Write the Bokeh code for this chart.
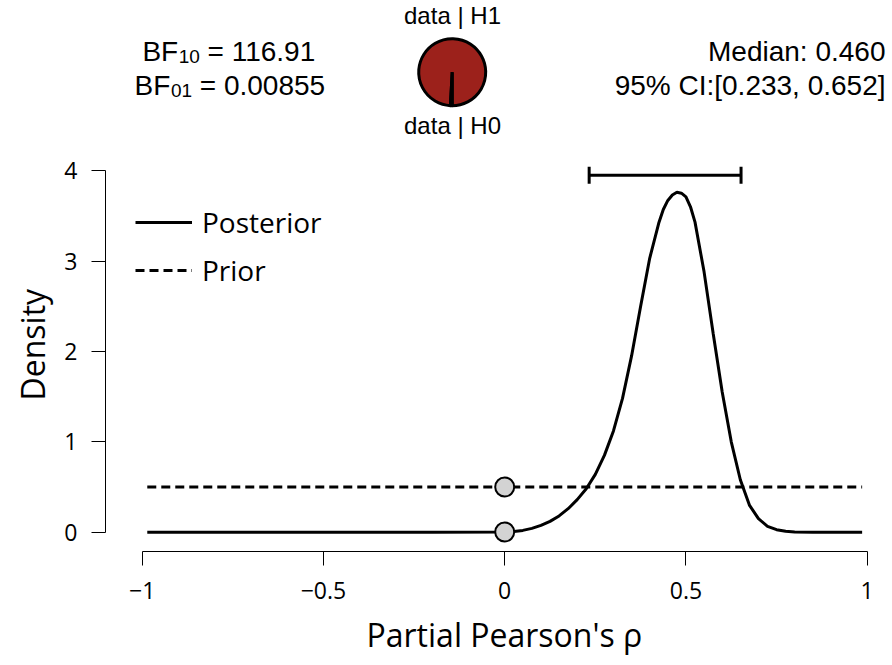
import math
from bokeh.plotting import figure
from bokeh.models import (Range1d, Legend, LegendItem, Whisker, TeeHead,
                          FixedTicker, ColumnDataSource, Title)
from bokeh.embed import file_html
from bokeh.resources import INLINE
from bokeh.core.properties import value

# ---------------- data ----------------
rho = [-0.986, -0.5, -0.2, 0.0, 0.025, 0.05, 0.075, 0.1, 0.125, 0.15, 0.175,
       0.2, 0.225, 0.25, 0.275, 0.3, 0.325, 0.35, 0.375, 0.4, 0.425, 0.4375,
       0.45, 0.4625, 0.475, 0.4875, 0.5, 0.5125, 0.525, 0.55, 0.575, 0.6,
       0.625, 0.65, 0.675, 0.7, 0.725, 0.75, 0.775, 0.8, 0.85, 0.986]
posterior = [0, 0, 0, 0.002, 0.008, 0.02, 0.042, 0.075, 0.12, 0.18, 0.26,
             0.36, 0.48, 0.64, 0.85, 1.12, 1.48, 1.95, 2.5, 3.03, 3.42, 3.57,
             3.67, 3.73, 3.76, 3.75, 3.71, 3.6, 3.43, 2.88, 2.2, 1.55,
             1.0, 0.58, 0.3, 0.15, 0.065, 0.028, 0.01, 0.003, 0, 0]
prior_rho = [-0.986, 0.986]
prior = [0.5, 0.5]

test_value = 0.0
bf10 = 116.91
bf01 = 0.00855
median = 0.460
ci_lower = 0.233
ci_upper = 0.652

x_ticks = [-1, -0.5, 0, 0.5, 1]
x_tick_labels = ["\u22121", "\u22120.5", "0", "0.5", "1"]
y_ticks = [0, 1, 2, 3, 4]
x_title = "Partial Pearson's \u03c1"
y_title = "Density"

# ---------------- styles / layout ----------------
RED = "#9c211b"
MAIN_FONT = "Open Sans"
HEAD_FONT = "Liberation Sans"
W, H = 892, 665

# screen-pixel -> data mapping of the plot frame (layout helper only)
X0_PX, X_SCALE = 504.2, 362.5      # screen x of rho=0, px per unit
Y0_PX, Y_SCALE = 531.7, 90.4       # screen y of density=0, px per unit
FRAME_L, FRAME_R, FRAME_T, FRAME_B = 105, 886, 0, 551
BASE_FIX = 11                      # renderer puts alphabetic baseline this much lower


def dx(px):
    return (px - X0_PX) / X_SCALE


def dy(py):
    return (Y0_PX - py) / Y_SCALE


def ty(py):
    return dy(py - BASE_FIX)


p = figure(width=W, height=H,
           x_range=Range1d(dx(FRAME_L), dx(FRAME_R)),
           y_range=Range1d(dy(FRAME_B), dy(FRAME_T)),
           output_backend="svg", toolbar_location=None,
           min_border_left=FRAME_L, min_border_right=W - FRAME_R,
           min_border_top=FRAME_T, min_border_bottom=H - FRAME_B)
p.grid.visible = False
p.outline_line_color = None

# ---------------- header: Bayes factors (centred lines) ----------------
FS, FS_SUB = 28, 19
w_bf = (0.667 + 0.611) * FS
w_sub = 2 * 0.556 * FS_SUB
w_sp = 0.278 * FS
vals = [f"= {bf10:.2f}", f"= {bf01:.5f}"]
subs = ["10", "01"]
base_y = [61.5, 95.5]
centre_x = 233.0
lefts = []
for s in vals:
    w_rest = (0.584 + 0.278) * FS + (len(s) - 2) * 0.556 * FS
    lefts.append(centre_x - (w_bf + w_sub + w_sp + w_rest) / 2)
p.text(x=[dx(l) for l in lefts], y=[ty(b) for b in base_y], text=["BF", "BF"],
       text_font=value(HEAD_FONT), text_font_size=f"{FS}px", text_color="black",
       text_align="left", text_baseline="alphabetic")
p.text(x=[dx(l + w_bf + 0.5) for l in lefts], y=[ty(b + 5) for b in base_y], text=subs,
       text_font=value(HEAD_FONT), text_font_size=f"{FS_SUB}px", text_color="black",
       text_align="left", text_baseline="alphabetic")
p.text(x=[dx(l + w_bf + w_sub + w_sp + 0.5) for l in lefts], y=[ty(b) for b in base_y],
       text=vals,
       text_font=value(HEAD_FONT), text_font_size=f"{FS}px", text_color="black",
       text_align="left", text_baseline="alphabetic")

# ---------------- header: pie of data|H1 vs data|H0 ----------------
p_h1 = bf10 / (1.0 + bf10)
start = -math.pi / 2
pie_x, pie_y, pie_r = dx(451.7), dy(71.7), 33.5 / X_SCALE
p.wedge(x=[pie_x], y=[pie_y], radius=pie_r, start_angle=start,
        end_angle=start + 2 * math.pi * p_h1,
        fill_color=RED, line_color="black", line_width=3)
p.wedge(x=[pie_x], y=[pie_y], radius=pie_r,
        start_angle=start + 2 * math.pi * p_h1, end_angle=start + 2 * math.pi,
        fill_color="white", line_color="black", line_width=3)
p.text(x=[dx(452), dx(452)], y=[ty(26), ty(136)], text=["data | H1", "data | H0"],
       text_font=value(HEAD_FONT), text_font_size="24px", text_color="black",
       text_align="center", text_baseline="alphabetic")

# ---------------- header: median / CI ----------------
p.text(x=[dx(885), dx(885)], y=[ty(61.5), ty(95.5)],
       text=[f"Median: {median:.3f}", f"95% CI:[{ci_lower:.3f}, {ci_upper:.3f}]"],
       text_font=value(HEAD_FONT), text_font_size="28px", text_color="black",
       text_align="right", text_baseline="alphabetic")

# ---------------- main plot ----------------
r_prior = p.line(prior_rho, prior, line_width=3, line_color="black", line_dash="9 5")
r_post = p.line(rho, posterior, line_width=3, line_color="black")

# credible interval bar above the peak
ci_src = ColumnDataSource(dict(base=[max(posterior) * 1.05], lower=[ci_lower], upper=[ci_upper]))
p.add_layout(Whisker(source=ci_src, base="base", lower="lower", upper="upper",
                     dimension="width", line_width=3, line_color="black",
                     lower_head=TeeHead(size=17, line_width=3, line_color="black"),
                     upper_head=TeeHead(size=17, line_width=3, line_color="black")))

# points at the test value
post_at_test = posterior[rho.index(test_value)]
p.scatter([test_value, test_value], [post_at_test, prior[0]], size=19,
          fill_color="lightgrey", line_color="black", line_width=2)

legend = Legend(items=[LegendItem(label="Posterior", renderers=[r_post]),
                       LegendItem(label="Prior", renderers=[r_prior])],
                location=(30, 262), glyph_width=57, glyph_height=38,
                label_standoff=10, spacing=10, padding=0, margin=0,
                border_line_alpha=0, background_fill_alpha=0,
                label_text_font=MAIN_FONT, label_text_font_size="28px",
                label_text_color="black")
p.add_layout(legend)

for ax in (p.xaxis[0], p.yaxis[0]):
    ax.axis_line_color = "black"
    ax.axis_line_width = 1
    ax.major_tick_line_color = "black"
    ax.major_tick_line_width = 1
    ax.major_tick_out = 14
    ax.major_tick_in = 0
    ax.minor_tick_line_color = None
    ax.major_label_text_font = MAIN_FONT
    ax.major_label_text_font_size = "23px"
    ax.major_label_text_color = "black"

p.xaxis.bounds = (x_ticks[0], x_ticks[-1])
p.xaxis.ticker = FixedTicker(ticks=x_ticks)
p.xaxis.major_label_overrides = {t: l for t, l in zip(x_ticks, x_tick_labels)}
p.xaxis.major_label_standoff = 16

p.yaxis.bounds = (y_ticks[0], y_ticks[-1])
p.yaxis.ticker = FixedTicker(ticks=y_ticks)
p.yaxis.major_label_standoff = 14
p.yaxis.major_label_orientation = "horizontal"

# axis titles placed like the reference (side-panel titles, shifted by offset)
XT_START, YT_BOTTOM = 366, 400     # screen start of x title, lower end of y title
p.add_layout(Title(text=x_title, align="left", offset=XT_START - FRAME_L,
                   standoff=19, text_font=MAIN_FONT, text_font_size="32px",
                   text_font_style="normal", text_color="black"), "below")
p.add_layout(Title(text=y_title, align="left", offset=FRAME_B - YT_BOTTOM,
                   standoff=16, text_font=MAIN_FONT, text_font_size="32px",
                   text_font_style="normal", text_color="black"), "left")

open("out.html", "w").write(file_html(p, INLINE))
